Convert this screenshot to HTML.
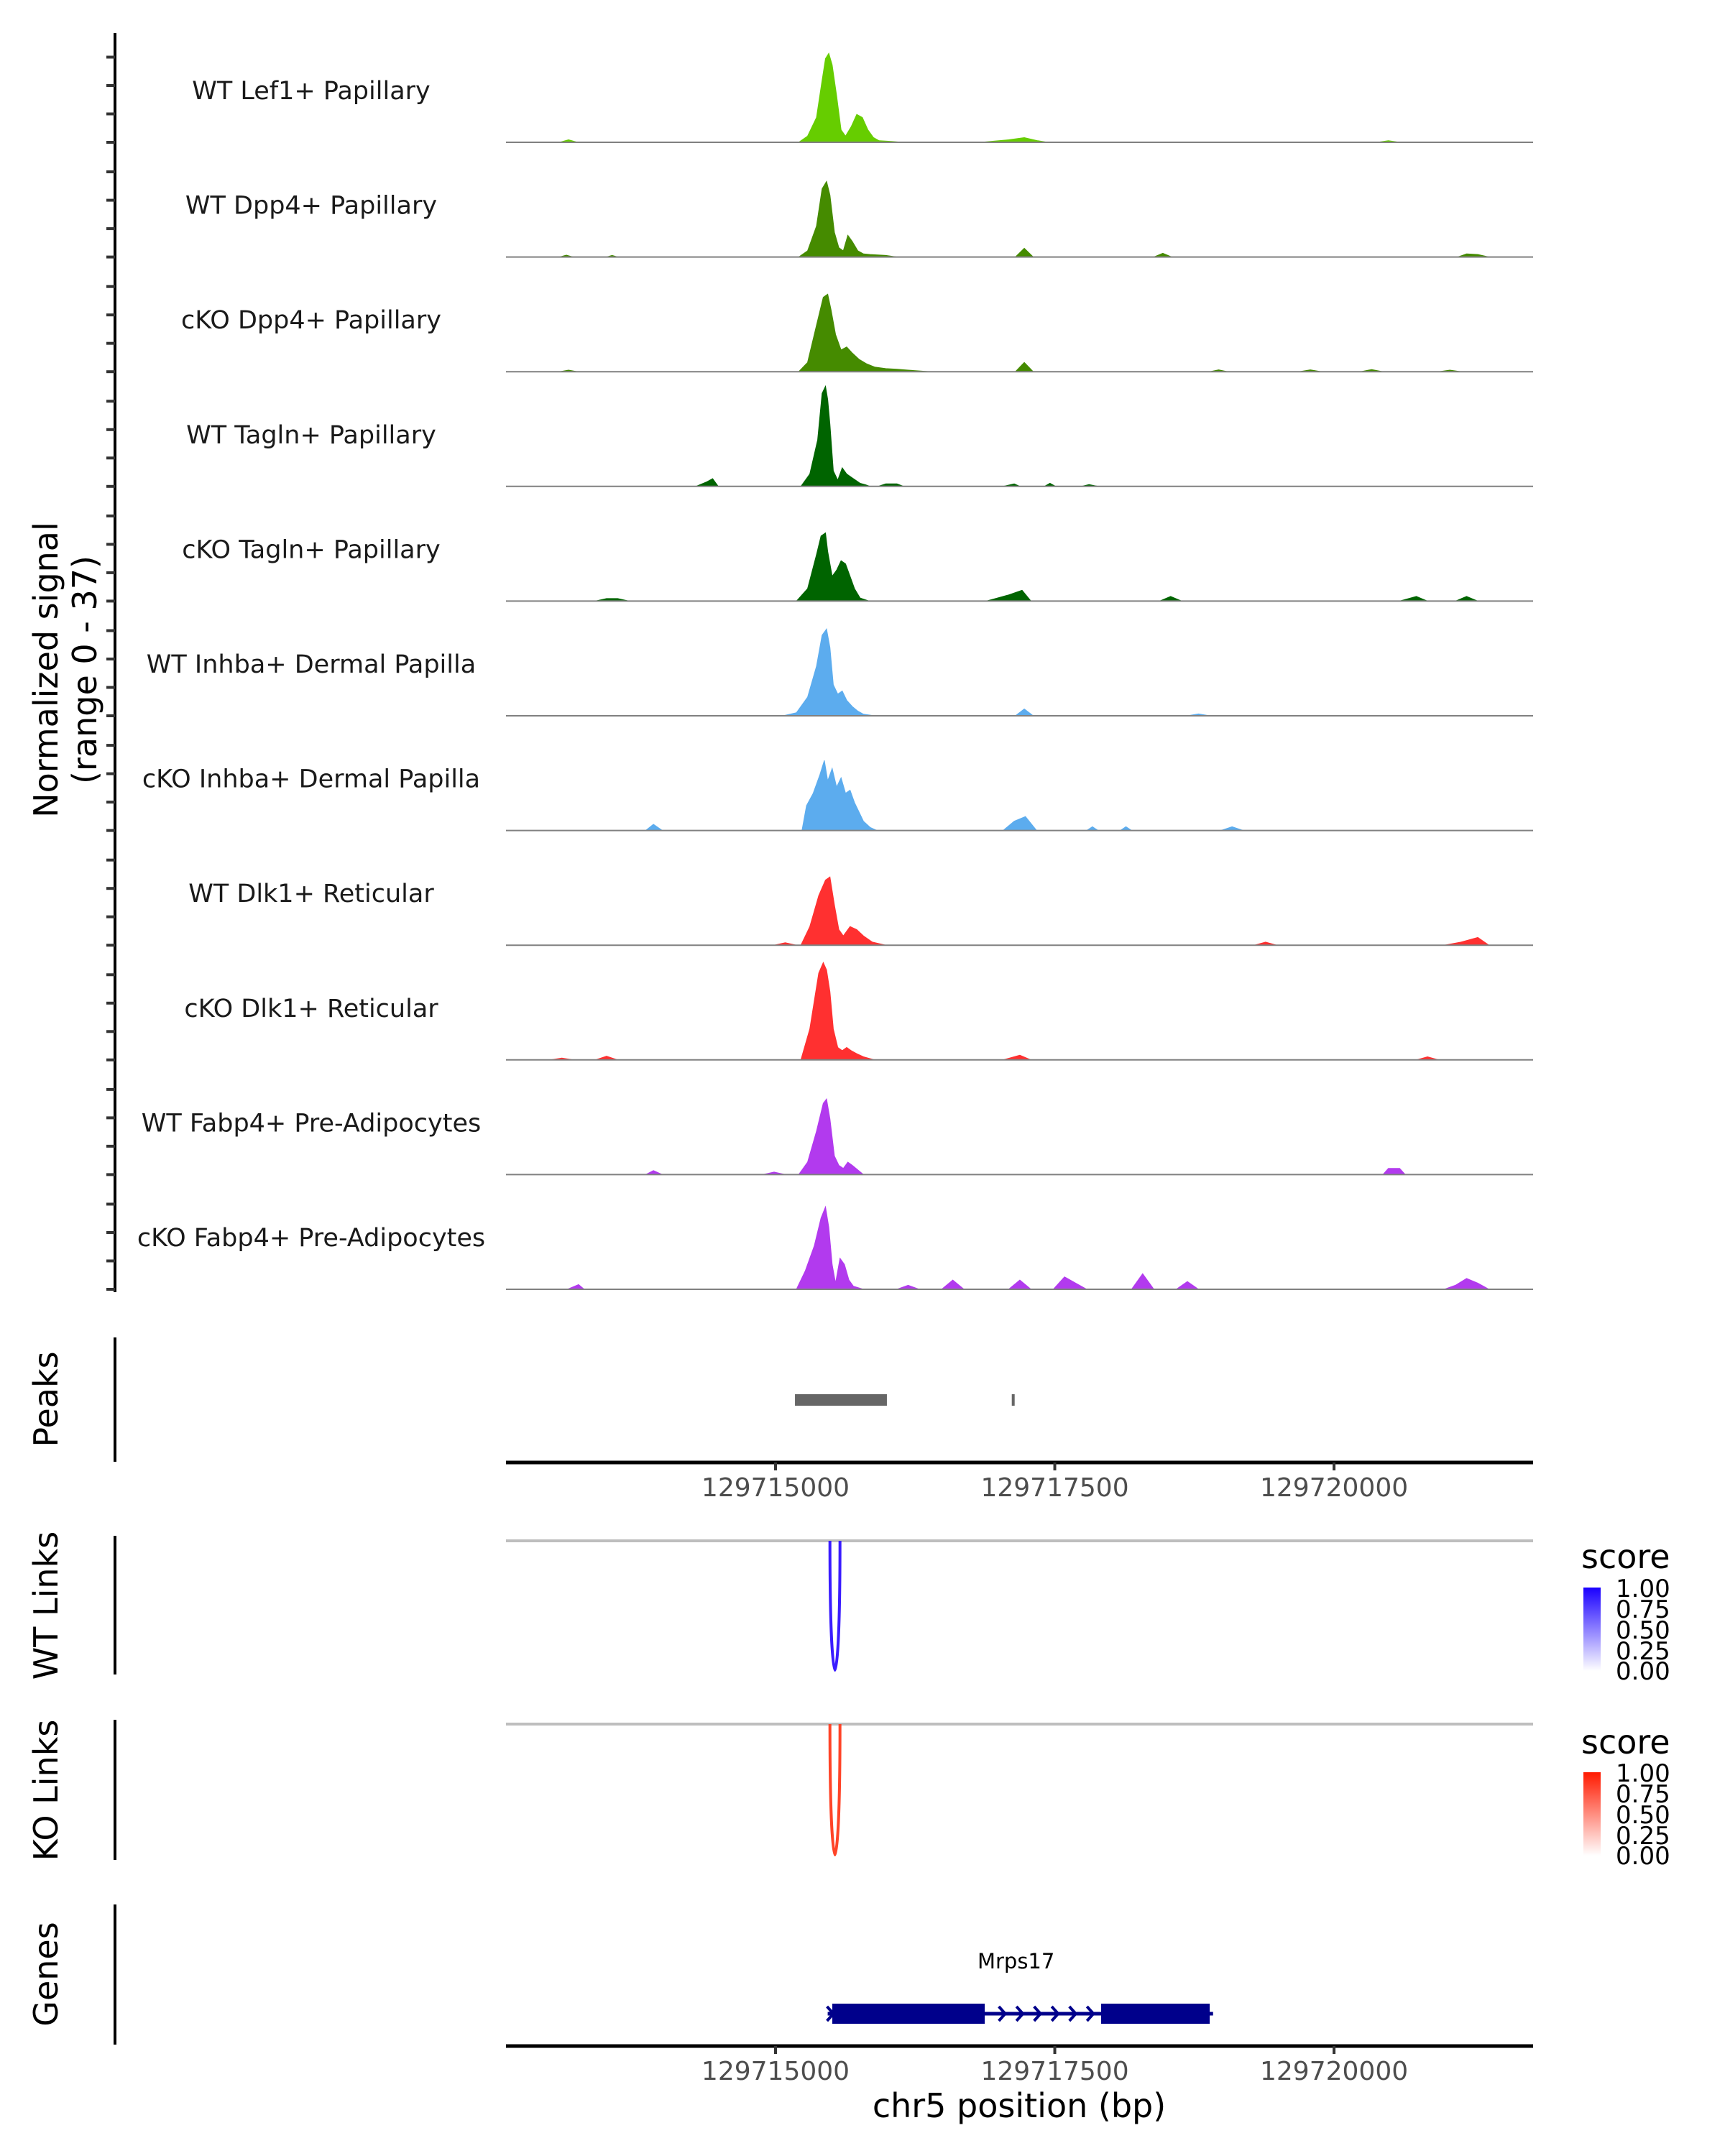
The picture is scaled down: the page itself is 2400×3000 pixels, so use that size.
<!DOCTYPE html>
<html><head><meta charset="utf-8"><style>
html,body{margin:0;padding:0;background:#fff;}
svg{display:block;font-family:"DejaVu Sans","Liberation Sans",sans-serif;}
</style></head><body>
<svg id="chart" width="2400" height="3000" viewBox="0 0 2400 3000" xmlns="http://www.w3.org/2000/svg">
<defs>
<linearGradient id="gBlue" x1="0" y1="1" x2="0" y2="0"><stop offset="0" stop-color="#ffffff"/><stop offset="1" stop-color="#1a00ff"/></linearGradient>
<linearGradient id="gRed" x1="0" y1="1" x2="0" y2="0"><stop offset="0" stop-color="#ffffff"/><stop offset="1" stop-color="#ff1a00"/></linearGradient>
</defs>
<g id="tracks"></g>
<text transform="translate(80,932) rotate(-90)" text-anchor="middle" font-size="46" fill="#000">Normalized signal</text>
<text transform="translate(134,932) rotate(-90)" text-anchor="middle" font-size="46" fill="#000">(range 0 - 37)</text>
<line x1="160" y1="46" x2="160" y2="1798" stroke="#000" stroke-width="4"/>
<g id="yticks"></g>
<!-- Peaks -->
<text transform="translate(80,1947) rotate(-90)" text-anchor="middle" font-size="46" fill="#000">Peaks</text>
<line x1="160" y1="1861" x2="160" y2="2034" stroke="#000" stroke-width="4"/>
<g id="peaks"></g>
<g id="xaxis1"></g>
<!-- WT links -->
<text transform="translate(80,2234) rotate(-90)" text-anchor="middle" font-size="46" fill="#000">WT Links</text>
<line x1="160" y1="2137" x2="160" y2="2330" stroke="#000" stroke-width="4"/>
<g id="wtlinks"></g>
<g>
<text x="2200" y="2182" font-size="46" fill="#000">score</text>
<rect x="2203" y="2209" width="24" height="116" fill="url(#gBlue)"/>
<g font-size="34" fill="#000">
<text x="2248" y="2222">1.00</text><text x="2248" y="2251">0.75</text><text x="2248" y="2280">0.50</text><text x="2248" y="2309">0.25</text><text x="2248" y="2337">0.00</text></g>
</g>
<!-- KO links -->
<text transform="translate(80,2491) rotate(-90)" text-anchor="middle" font-size="46" fill="#000">KO Links</text>
<line x1="160" y1="2393" x2="160" y2="2588" stroke="#000" stroke-width="4"/>
<g id="kolinks"></g>
<g>
<text x="2200" y="2440" font-size="46" fill="#000">score</text>
<rect x="2203" y="2466" width="24" height="116" fill="url(#gRed)"/>
<g font-size="34" fill="#000">
<text x="2248" y="2479">1.00</text><text x="2248" y="2508">0.75</text><text x="2248" y="2537">0.50</text><text x="2248" y="2566">0.25</text><text x="2248" y="2594">0.00</text></g>
</g>
<!-- Genes -->
<text transform="translate(80,2747) rotate(-90)" text-anchor="middle" font-size="46" fill="#000">Genes</text>
<line x1="160" y1="2650" x2="160" y2="2845" stroke="#000" stroke-width="4"/>
<g id="genes"></g>
<g id="xaxis2"></g>
<text x="1418" y="2946" text-anchor="middle" font-size="46" fill="#000">chr5 position (bp)</text>
</svg>
<script>
const REGION_START = 129712587;
const REGION_END = 129721782;
const X_TICKS = [129715000, 129717500, 129720000];
const Y_MAX = 37;
const TRACK_NAMES = ["WT Lef1+ Papillary","WT Dpp4+ Papillary","cKO Dpp4+ Papillary","WT Tagln+ Papillary","cKO Tagln+ Papillary","WT Inhba+ Dermal Papilla","cKO Inhba+ Dermal Papilla","WT Dlk1+ Reticular","cKO Dlk1+ Reticular","WT Fabp4+ Pre-Adipocytes","cKO Fabp4+ Pre-Adipocytes"];
const TRACK_COLORS = ["#66CD00","#458B00","#458B00","#006400","#006400","#5CACEE","#5CACEE","#FF3030","#FF3030","#B23AEE","#B23AEE"];
// positions are bp offsets from REGION_START; values are normalized signal
const POS_1 = [480,560,640, 2620,2700,2780,2830,2860,2890,2920,2960,3000,3040,3090,3140,3190,3240,3290,3340,3450,3550, 4250,4500,4640,4760,4850, 7800,7900,8000];
const VAL_1 = [0,0.8,0, 0,2,8,20,27,28.7,25,15,4,2,5,9,8,4,1.5,0.5,0.3,0, 0,0.8,1.5,0.5,0, 0,0.5,0];
const POS_2 = [480,540,600, 900,950,1000, 2620,2700,2780,2830,2870,2900,2940,2980,3020,3060,3100,3150,3200,3260,3400,3500, 4560,4640,4720, 5800,5880,5960, 8520,8600,8700,8800];
const VAL_2 = [0,0.6,0, 0,0.5,0, 0,2,10,22,24.4,20,8,3,2,7,5,2,1,0.8,0.5,0, 0,2.8,0, 0,1.2,0, 0,1,0.8,0];
const POS_3 = [480,560,640, 2620,2700,2780,2840,2880,2910,2950,3000,3050,3100,3160,3230,3300,3400,3500,3600,3800, 4560,4640,4720, 6300,6380,6460, 7100,7200,7300, 7650,7750,7850, 8350,8450,8550];
const VAL_3 = [0,0.5,0, 0,3,15,24,25,20,12,7,8,6,4,2.5,1.5,1,0.8,0.5,0, 0,3,0, 0,0.6,0, 0,0.6,0, 0,0.7,0, 0,0.5,0];
const POS_4 = [1700,1800,1850,1900, 2640,2720,2790,2830,2860,2880,2900,2930,2970,3010,3050,3090,3130,3170,3220,3260, 3330,3400,3500,3560, 4450,4550,4600, 4820,4870,4920, 5150,5220,5300];
const VAL_4 = [0,1.5,2.5,0, 0,4,15,30,32.3,28,20,5,2,6,4,3,2,1,0.5,0, 0,0.8,0.8,0, 0,0.8,0, 0,1,0, 0,0.6,0];
const POS_5 = [800,900,1000,1100, 2600,2700,2780,2820,2860,2880,2920,2960,3000,3040,3080,3120,3170,3250, 4300,4400,4500,4620,4700, 5850,5950,6050, 8000,8150,8250, 8500,8600,8700];
const VAL_5 = [0,0.8,0.8,0, 0,4,15,21,22,16,8,10,13,12,8,4,1,0, 0,1,2,3.5,0, 0,1.5,0, 0,1.5,0, 0,1.5,0];
const POS_6 = [2480,2600,2700,2780,2830,2870,2900,2930,2970,3010,3050,3100,3150,3200,3300, 4560,4640,4720, 6100,6200,6300];
const VAL_6 = [0,1,6,16,26,28,22,10,7,8,5,3,1.5,0.5,0, 0,2.2,0, 0,0.6,0];
const POS_7 = [1250,1320,1400, 2650,2690,2750,2810,2850,2880,2920,2960,3000,3040,3080,3120,3160,3200,3260,3320, 4450,4550,4650,4750, 5200,5250,5300, 5500,5550,5600, 6400,6500,6600];
const VAL_7 = [0,2,0, 0,8,12,18,22.6,16,20,14,17,12,13,9,6,3,1,0, 0,3,4.5,0, 0,1.2,0, 0,1.2,0, 0,1.2,0];
const POS_8 = [2400,2500,2600, 2640,2720,2800,2860,2900,2940,2980,3020,3080,3140,3200,3280,3400, 6700,6800,6900, 8400,8550,8700,8800];
const VAL_8 = [0,0.8,0, 0,6,16,21,22,13,5,3,6,5,3,1,0, 0,1,0, 0,1,2.5,0];
const POS_9 = [400,500,600, 800,900,1000, 2640,2720,2800,2840,2870,2900,2930,2970,3010,3050,3090,3140,3200,3300, 4450,4600,4700, 8150,8250,8350];
const VAL_9 = [0,0.6,0, 0,1.2,0, 0,10,28,31.4,29,22,10,4,3,4,3,2,1,0, 0,1.5,0, 0,1,0];
const POS_10 = [1250,1320,1400, 2300,2400,2500, 2620,2700,2780,2840,2870,2900,2940,2980,3020,3060,3100,3150,3200, 7850,7900,8000,8050];
const VAL_10 = [0,1.3,0, 0,0.8,0, 0,4,14,23,24.4,18,6,3,2,4,3,1.5,0, 0,2,2,0];
const POS_11 = [550,650,700, 2600,2680,2760,2820,2860,2890,2920,2950,2990,3030,3070,3110,3200, 3500,3600,3700, 3900,4000,4100, 4500,4600,4700, 4900,5000,5100,5200, 5600,5700,5800, 6000,6100,6200, 8400,8500,8600,8700,8800];
const VAL_11 = [0,1.5,0, 0,6,14,23,26.6,20,8,2,10,8,3,1,0, 0,1.3,0, 0,3,0, 0,3,0, 0,4,2,0, 0,5,0, 0,2.5,0, 0,1.3,3.5,2,0];
const TRACK_POS = [POS_1,POS_2,POS_3,POS_4,POS_5,POS_6,POS_7,POS_8,POS_9,POS_10,POS_11];
const TRACK_VAL = [VAL_1,VAL_2,VAL_3,VAL_4,VAL_5,VAL_6,VAL_7,VAL_8,VAL_9,VAL_10,VAL_11];
const PEAK_STARTS = [2587, 4528];
const PEAK_ENDS = [3410, 4534];
const WT_LINK_START = [2900];
const WT_LINK_END = [2990];
const WT_LINK_SCORE = [1.0];
const KO_LINK_START = [2900];
const KO_LINK_END = [2990];
const KO_LINK_SCORE = [0.9];
const GENE_NAME = "Mrps17";
const EXON_STARTS = [2921, 5328];
const EXON_ENDS = [4286, 6300];
const GENE_START = 2880;
const GENE_END = 6330;

const NS = "http://www.w3.org/2000/svg";
const PX0 = 704, PX1 = 2133;
function xScale(offset){ return PX0 + (offset) / (REGION_END - REGION_START) * (PX1 - PX0); }
function xAbs(bp){ return xScale(bp - REGION_START); }
const TRACK_H = 159.6, BASE0 = 198;
function yScale(i, v){ return BASE0 + i*TRACK_H - v / Y_MAX * TRACK_H; }
function mk(tag, attrs, parent){ const e = document.createElementNS(NS, tag); for (const k in attrs) e.setAttribute(k, attrs[k]); parent.appendChild(e); return e; }

const tracksG = document.getElementById('tracks');
TRACK_NAMES.forEach((name, i) => {
  const base = BASE0 + i*TRACK_H;
  const g = mk('g', {}, tracksG);
  
  
  const pos = TRACK_POS[i], val = TRACK_VAL[i];
  let d = 'M' + xScale(pos[0]).toFixed(1) + ',' + base;
  for (let k = 0; k < pos.length; k++) d += 'L' + xScale(pos[k]).toFixed(1) + ',' + yScale(i, val[k]).toFixed(1);
  d += 'L' + xScale(pos[pos.length-1]).toFixed(1) + ',' + base + 'Z';
  const area = mk('path', {d: d, fill: TRACK_COLORS[i], stroke: TRACK_COLORS[i], 'stroke-width': 1}, g);
  
  
  const bl = mk('line', {x1: PX0, x2: PX1, y1: base, y2: base, stroke: '#808080', 'stroke-width': 2}, g);
  
  
  const t = mk('text', {x: 433, y: base - 60, 'text-anchor': 'middle', 'font-size': 35, fill: '#1a1a1a'}, g);
  t.textContent = name;
  
  
});

const ytG = document.getElementById('yticks');
for (let i = 0; i < TRACK_NAMES.length; i++) {
  for (let k = 0; k < 4; k++) {
    const y = BASE0 + i*TRACK_H - k*39.5;
    const tk = mk('line', {x1: 148, x2: 160, y1: y, y2: y, stroke: '#333', 'stroke-width': 4}, ytG);
    
    
  }
}

const peaksG = document.getElementById('peaks');
PEAK_STARTS.forEach((s, i) => {
  const x0 = xScale(s), x1 = xScale(PEAK_ENDS[i]);
  const r = mk('rect', {x: x0, y: 1940, width: Math.max(4, x1 - x0), height: 16, fill: '#666'}, peaksG);
  
  
});

function drawXAxis(gid, y){
  const g = document.getElementById(gid);
  const l = mk('line', {x1: PX0, x2: PX1, y1: y, y2: y, stroke: '#000', 'stroke-width': 5}, g);
  
  
  X_TICKS.forEach(v => {
    const x = xAbs(v);
    const tk = mk('line', {x1: x, x2: x, y1: y, y2: y + 11, stroke: '#333', 'stroke-width': 4}, g);
    
    
    const t = mk('text', {x: x, y: y + 47, 'text-anchor': 'middle', 'font-size': 36, fill: '#4d4d4d'}, g);
    t.textContent = String(v);
    
    
  });
}
drawXAxis('xaxis1', 2035);
drawXAxis('xaxis2', 2847);

function drawLinks(gid, lineY, bottom, starts, ends, scores, color){
  const g = document.getElementById(gid);
  const gl = mk('line', {x1: PX0, x2: PX1, y1: lineY, y2: lineY, stroke: '#bebebe', 'stroke-width': 4}, g);
  
  
  starts.forEach((s, i) => {
    const x0 = xScale(s), x1 = xScale(ends[i]), xm = (x0 + x1) / 2;
    const depth = (bottom - lineY) * scores[i] / Math.max(...scores);
    const yb = lineY + depth;
    const d = 'M' + x0 + ',' + lineY + ' C' + x0 + ',' + (lineY + depth*0.9) + ' ' + (xm - 1) + ',' + yb + ' ' + xm + ',' + yb +
              ' C' + (xm + 1) + ',' + yb + ' ' + x1 + ',' + (lineY + depth*0.9) + ' ' + x1 + ',' + lineY;
    const p = mk('path', {d: d, fill: 'none', stroke: color, 'stroke-width': 4}, g);
    
    
  });
}
drawLinks('wtlinks', 2144, 2324, WT_LINK_START, WT_LINK_END, WT_LINK_SCORE, '#3a1cff');
drawLinks('kolinks', 2399, 2581, KO_LINK_START, KO_LINK_END, KO_LINK_SCORE, '#ff4428');

const genesG = document.getElementById('genes');
const gy = 2802;
const gname = mk('text', {x: xScale((GENE_START + GENE_END)/2) - 6, y: 2739, 'text-anchor': 'middle', 'font-size': 29, fill: '#000'}, genesG);
gname.textContent = GENE_NAME;


const gline = mk('line', {x1: xScale(GENE_START), x2: xScale(GENE_END), y1: gy, y2: gy, stroke: '#00008b', 'stroke-width': 5}, genesG);


EXON_STARTS.forEach((s, i) => {
  const r = mk('rect', {x: xScale(s), y: 2788, width: xScale(EXON_ENDS[i]) - xScale(s), height: 28, fill: '#00008b'}, genesG);
  
  
});
const intronS = xScale(EXON_ENDS[0]), intronE = xScale(EXON_STARTS[1]);
for (let k = 1; k <= 6; k++) {
  const cx = intronS + k * (intronE - intronS) / 6.6;
  const c = mk('path', {d: 'M' + (cx-5) + ',' + (gy-10) + ' L' + (cx+4) + ',' + gy + ' L' + (cx-5) + ',' + (gy+10), fill: 'none', stroke: '#00008b', 'stroke-width': 4}, genesG);
  
  
}
const c0x = xScale(GENE_START) + 4;
const c0 = mk('path', {d: 'M' + (c0x-5) + ',' + (gy-10) + ' L' + (c0x+4) + ',' + gy + ' L' + (c0x-5) + ',' + (gy+10), fill: 'none', stroke: '#00008b', 'stroke-width': 4}, genesG);


</script>
</body></html>
